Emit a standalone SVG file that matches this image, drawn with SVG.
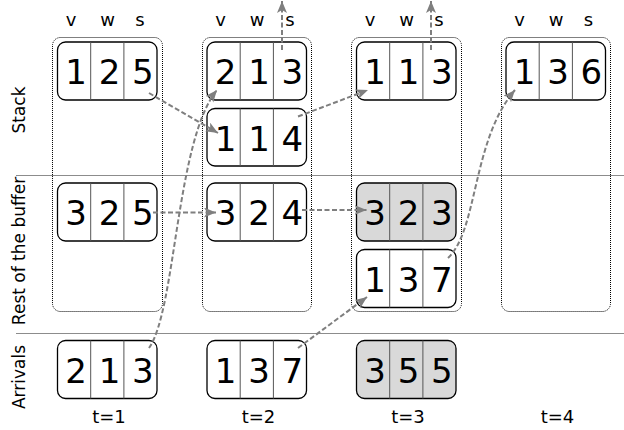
<svg xmlns="http://www.w3.org/2000/svg" width="624" height="430" viewBox="0 0 624 430">
<defs>
<style>
.frame{fill:none;stroke:#000;stroke-width:1;stroke-dasharray:1,1}
.box{fill:#fff;stroke:#000;stroke-width:1.3}
.grey .box{fill:#d9d9d9}
.div{stroke:#555;stroke-width:1}
.num{font-family:"DejaVu Sans","Liberation Sans",sans-serif;font-size:34px;fill:#000;text-anchor:middle}
.hdr{font-family:"DejaVu Sans","Liberation Sans",sans-serif;font-size:18px;fill:#000;text-anchor:middle}
.lbl{font-family:"DejaVu Sans","Liberation Sans",sans-serif;font-size:17px;fill:#000;text-anchor:middle}
.sep{stroke:#8c8c8c;stroke-width:1}
.arr{fill:none;stroke:#7f7f7f;stroke-width:2;stroke-dasharray:5,2.5;marker-end:url(#ah)}
</style>
<marker id="ah" markerUnits="userSpaceOnUse" markerWidth="14" markerHeight="12" refX="12" refY="5" orient="auto" viewBox="0 0 14 12">
<path d="M0,0 L12,5 L0,10 L3,5 Z" fill="#7f7f7f"/>
</marker>
</defs>
<rect width="624" height="430" fill="#fff"/>

<g id="separators">
<line class="sep" x1="16" y1="175.5" x2="624" y2="175.5"/>
<line class="sep" x1="16" y1="333.5" x2="624" y2="333.5"/>
</g>

<g id="row-labels">
<text class="lbl" transform="translate(25,110) rotate(-90)">Stack</text>
<text class="lbl" transform="translate(25,251) rotate(-90)">Rest of the buffer</text>
<text class="lbl" transform="translate(25,377) rotate(-90)">Arrivals</text>
</g>

<g id="headers">
<text class="hdr" x="71" y="26">v</text><text class="hdr" x="107.5" y="26">w</text><text class="hdr" x="140" y="26">s</text>
<text class="hdr" x="220.5" y="26">v</text><text class="hdr" x="257" y="26">w</text><text class="hdr" x="290" y="26">s</text>
<text class="hdr" x="370" y="26">v</text><text class="hdr" x="406.5" y="26">w</text><text class="hdr" x="439" y="26">s</text>
<text class="hdr" x="519.5" y="26">v</text><text class="hdr" x="556" y="26">w</text><text class="hdr" x="588.5" y="26">s</text>
</g>

<g id="frames">
<rect class="frame" x="52.5" y="37.5" width="110" height="274" rx="8"/>
<rect class="frame" x="202.5" y="37.5" width="109" height="274" rx="8"/>
<rect class="frame" x="351.5" y="37.5" width="110" height="274" rx="8"/>
<rect class="frame" x="501.5" y="37.5" width="109" height="274" rx="8"/>
</g>

<g id="time-labels">
<text class="hdr" x="109" y="423">t=1</text>
<text class="hdr" x="258.5" y="423">t=2</text>
<text class="hdr" x="408" y="423">t=3</text>
<text class="hdr" x="557.5" y="423">t=4</text>
</g>

<g id="t1-stack-125" transform="translate(57.5,42)">
<rect class="box" width="99.5" height="58" rx="8"/><line class="div" x1="33.2" y1="0" x2="33.2" y2="58"/><line class="div" x1="66.4" y1="0" x2="66.4" y2="58"/>
<text class="num" x="18.5" y="42">1</text><text class="num" x="52" y="42">2</text><text class="num" x="85.3" y="42">5</text>
</g>
<g id="t1-buffer-325" transform="translate(57.5,183)">
<rect class="box" width="99.5" height="58" rx="8"/><line class="div" x1="33.2" y1="0" x2="33.2" y2="58"/><line class="div" x1="66.4" y1="0" x2="66.4" y2="58"/>
<text class="num" x="18.5" y="42">3</text><text class="num" x="52" y="42">2</text><text class="num" x="85.3" y="42">5</text>
</g>
<g id="t1-arrival-213" transform="translate(57.5,340.5)">
<rect class="box" width="99.5" height="58" rx="8"/><line class="div" x1="33.2" y1="0" x2="33.2" y2="58"/><line class="div" x1="66.4" y1="0" x2="66.4" y2="58"/>
<text class="num" x="18.5" y="42">2</text><text class="num" x="52" y="42">1</text><text class="num" x="85.3" y="42">3</text>
</g>

<g id="t2-stack-213" transform="translate(207,42)">
<rect class="box" width="99.5" height="58" rx="8"/><line class="div" x1="33.2" y1="0" x2="33.2" y2="58"/><line class="div" x1="66.4" y1="0" x2="66.4" y2="58"/>
<text class="num" x="18.5" y="42">2</text><text class="num" x="52" y="42">1</text><text class="num" x="85.3" y="42">3</text>
</g>
<g id="t2-stack-114" transform="translate(207,108.5)">
<rect class="box" width="99.5" height="57.5" rx="8"/><line class="div" x1="33.2" y1="0" x2="33.2" y2="57.5"/><line class="div" x1="66.4" y1="0" x2="66.4" y2="57.5"/>
<text class="num" x="18.5" y="42">1</text><text class="num" x="52" y="42">1</text><text class="num" x="85.3" y="42">4</text>
</g>
<g id="t2-buffer-324" transform="translate(207,183)">
<rect class="box" width="99.5" height="58" rx="8"/><line class="div" x1="33.2" y1="0" x2="33.2" y2="58"/><line class="div" x1="66.4" y1="0" x2="66.4" y2="58"/>
<text class="num" x="18.5" y="42">3</text><text class="num" x="52" y="42">2</text><text class="num" x="85.3" y="42">4</text>
</g>
<g id="t2-arrival-137" transform="translate(207,340.5)">
<rect class="box" width="99.5" height="58" rx="8"/><line class="div" x1="33.2" y1="0" x2="33.2" y2="58"/><line class="div" x1="66.4" y1="0" x2="66.4" y2="58"/>
<text class="num" x="18.5" y="42">1</text><text class="num" x="52" y="42">3</text><text class="num" x="85.3" y="42">7</text>
</g>

<g id="t3-stack-113" transform="translate(356.5,42)">
<rect class="box" width="99.5" height="58" rx="8"/><line class="div" x1="33.2" y1="0" x2="33.2" y2="58"/><line class="div" x1="66.4" y1="0" x2="66.4" y2="58"/>
<text class="num" x="18.5" y="42">1</text><text class="num" x="52" y="42">1</text><text class="num" x="85.3" y="42">3</text>
</g>
<g id="t3-buffer-323" class="grey" transform="translate(356.5,183)">
<rect class="box" width="99.5" height="58" rx="8"/><line class="div" x1="33.2" y1="0" x2="33.2" y2="58"/><line class="div" x1="66.4" y1="0" x2="66.4" y2="58"/>
<text class="num" x="18.5" y="42">3</text><text class="num" x="52" y="42">2</text><text class="num" x="85.3" y="42">3</text>
</g>
<g id="t3-buffer-137" transform="translate(356.5,249.5)">
<rect class="box" width="99.5" height="58" rx="8"/><line class="div" x1="33.2" y1="0" x2="33.2" y2="58"/><line class="div" x1="66.4" y1="0" x2="66.4" y2="58"/>
<text class="num" x="18.5" y="42">1</text><text class="num" x="52" y="42">3</text><text class="num" x="85.3" y="42">7</text>
</g>
<g id="t3-arrival-355" class="grey" transform="translate(356.5,340.5)">
<rect class="box" width="99.5" height="58" rx="8"/><line class="div" x1="33.2" y1="0" x2="33.2" y2="58"/><line class="div" x1="66.4" y1="0" x2="66.4" y2="58"/>
<text class="num" x="18.5" y="42">3</text><text class="num" x="52" y="42">5</text><text class="num" x="85.3" y="42">5</text>
</g>

<g id="t4-stack-136" transform="translate(506,42)">
<rect class="box" width="99.5" height="58" rx="8"/><line class="div" x1="33.2" y1="0" x2="33.2" y2="58"/><line class="div" x1="66.4" y1="0" x2="66.4" y2="58"/>
<text class="num" x="18.5" y="42">1</text><text class="num" x="52" y="42">3</text><text class="num" x="85.3" y="42">6</text>
</g>

<g id="connectors">
<path class="arr" d="M149,93 L218,133"/>
<path class="arr" d="M149,348 C176,310 176,140 217,90"/>
<path class="arr" d="M153,212.5 L216,212.5"/>
<path class="arr" d="M282,50 L282,1"/>
<path class="arr" d="M298,116.5 L368,90"/>
<path class="arr" d="M302,210 L366.5,210"/>
<path class="arr" d="M298,348 L367,297"/>
<path class="arr" d="M431,50 L431,1"/>
<path class="arr" d="M448,258 C478,230 472,140 515,90"/>
</g>
</svg>
